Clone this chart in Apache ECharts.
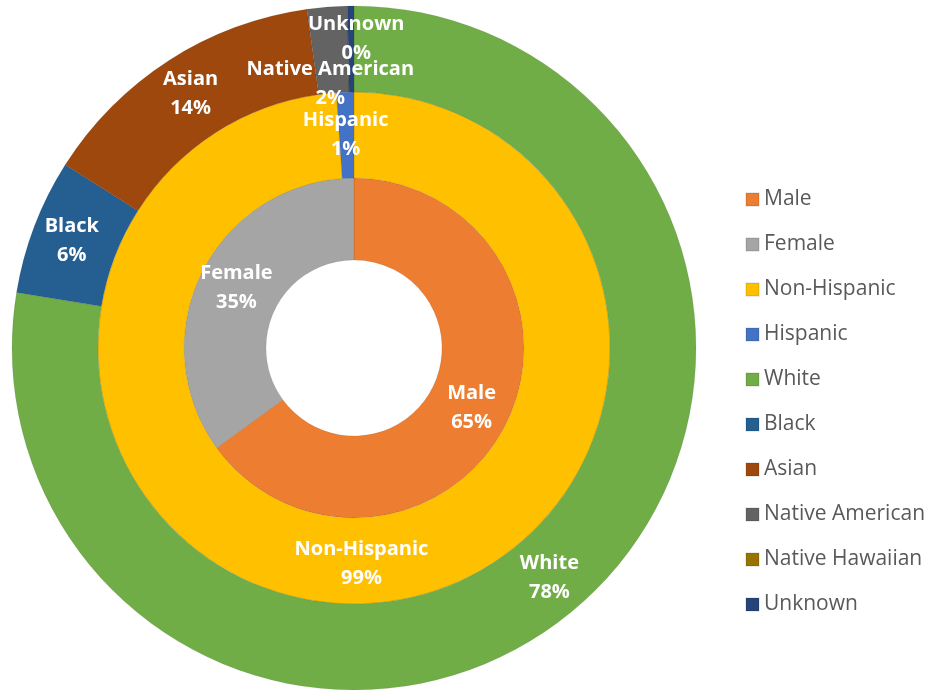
<!DOCTYPE html>
<html><head><meta charset="utf-8">
<script src="https://cdn.jsdelivr.net/npm/echarts@6/dist/echarts.min.js"></script>
<style>html,body{margin:0;padding:0;background:#fff}#c{width:934px;height:690px}</style>
</head><body><div id="c"></div>
<script>
const genderNames = ['Male', 'Female'];
const genderValues = [65, 35];
const ethnicityNames = ['Non-Hispanic', 'Hispanic'];
const ethnicityValues = [98.9, 1.1];
const raceNames = ['White', 'Black', 'Asian', 'Native American', 'Native Hawaiian', 'Unknown'];
const raceValues = [77.6, 6.4, 13.8, 1.9, 0, 0.3];

const colors = {
  'Male': '#ED7D31', 'Female': '#A5A5A5', 'Non-Hispanic': '#FFC000', 'Hispanic': '#4472C4',
  'White': '#70AD47', 'Black': '#255E91', 'Asian': '#9E480E', 'Native American': '#636363',
  'Native Hawaiian': '#997300', 'Unknown': '#264478'
};
// label nudges (px) for crowded slices
const labelShift = { 'Native American': [0, 37], 'Hispanic': [-1, 0], 'Unknown': [5, -10] };
// tiny slices whose built-in label ECharts drops: drawn as text at the slice mid-angle
const tinySlices = ['Hispanic', 'Unknown'];

const CX = 354, CY = 348;
const labelFont = { family: 'Open Sans', size: 20, lineHeight: 29 };
const extraTexts = [];

function build(names, values, r0, r1) {
  const total = values.reduce((a, b) => a + b, 0);
  let cum = 0;
  return names.map((n, i) => {
    const v = values[i];
    const mid = (cum + v / 2) / total * 2 * Math.PI;
    cum += v;
    const item = { name: n, value: v, itemStyle: { color: colors[n] } };
    const sh = labelShift[n] || [0, 0];
    if (v === 0) item.label = { show: false };
    else if (tinySlices.indexOf(n) >= 0) {
      item.label = { show: false };
      const rm = (r0 + r1) / 2;
      extraTexts.push({
        type: 'text', z: 100, silent: true,
        x: CX + rm * Math.sin(mid) + sh[0], y: CY - rm * Math.cos(mid) + sh[1],
        style: {
          text: n + '\n' + Math.round(v / total * 100) + '%',
          fill: '#fff', align: 'center', verticalAlign: 'middle',
          fontFamily: labelFont.family, fontWeight: 'bold', fontSize: labelFont.size, lineHeight: labelFont.lineHeight
        }
      });
    } else if (labelShift[n]) item.label = { offset: sh };
    return item;
  });
}

const labelStyle = {
  show: true, position: 'inside', color: '#fff', fontFamily: labelFont.family,
  fontWeight: 'bold', fontSize: labelFont.size, lineHeight: labelFont.lineHeight,
  formatter: p => p.name + '\n' + Math.round(p.percent) + '%'
};
const base = {
  type: 'pie', center: [CX, CY], startAngle: 90, clockwise: true,
  avoidLabelOverlap: false, silent: true, label: labelStyle, labelLine: { show: false },
  itemStyle: { borderColor: 'rgba(0,0,0,0.08)', borderWidth: 1 },
  emphasis: { disabled: true }
};

const rings = [[88, 170], [170, 256], [256, 342]];
const series = [
  Object.assign({}, base, { name: 'Gender', radius: rings[0], data: build(genderNames, genderValues, rings[0][0], rings[0][1]) }),
  Object.assign({}, base, { name: 'Ethnicity', radius: rings[1], data: build(ethnicityNames, ethnicityValues, rings[1][0], rings[1][1]) }),
  Object.assign({}, base, { name: 'Race', radius: rings[2], data: build(raceNames, raceValues, rings[2][0], rings[2][1]) })
];

const chart = echarts.init(document.getElementById('c'));
chart.setOption({
  animation: false,
  legend: {
    orient: 'vertical', left: 745, top: 189, padding: 0, itemWidth: 13, itemHeight: 13, itemGap: 24,
    icon: 'rect',
    textStyle: { color: '#595959', fontSize: 21, fontFamily: 'Open Sans', lineHeight: 20 },
    data: genderNames.concat(ethnicityNames, raceNames)
  },
  series: series,
  graphic: extraTexts
});
</script></body></html>
